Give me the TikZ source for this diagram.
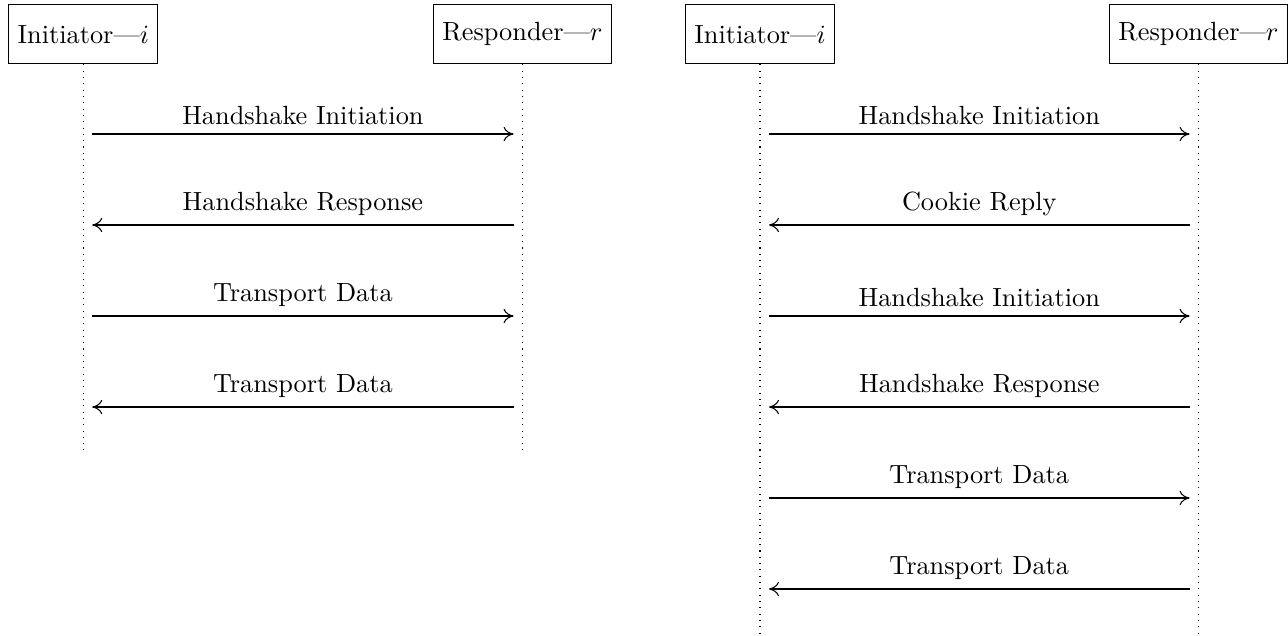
\documentclass[tikz,border=0pt]{standalone}
\usetikzlibrary{arrows.meta}
\begin{document}
\begin{tikzpicture}[x=0.3802pt,y=-0.3802pt,
  actor/.style={draw, minimum height=22.5pt, inner sep=3.33pt},
  life/.style={dotted},
  msg/.style={-{To[length=3.8pt,width=5.4pt]}, shorten >=3.4pt, shorten <=3.4pt},
  lbl/.style={above}]
\useasboundingbox (0,0) rectangle (1288,635);
% left diagram
\node[actor] (i1) at (83.3,34.3) {Initiator---$i$};
\node[actor] (r1) at (522.5,34.3) {Responder---$r$};
\coordinate (i1end) at (83.3,450);
\coordinate (r1end) at (522.5,450);
\draw[life] (i1.south) -- (i1end);
\draw[life] (r1.south) -- (r1end);
\coordinate (i1a) at (83.3,134);  \coordinate (r1a) at (522.5,134);
\coordinate (i1b) at (83.3,225);  \coordinate (r1b) at (522.5,225);
\coordinate (i1c) at (83.3,316);  \coordinate (r1c) at (522.5,316);
\coordinate (i1d) at (83.3,407);  \coordinate (r1d) at (522.5,407);
\draw[msg] (i1a) -- node[lbl] {Handshake Initiation} (r1a);
\draw[msg] (r1b) -- node[lbl] {Handshake Response} (i1b);
\draw[msg] (i1c) -- node[lbl] {Transport Data} (r1c);
\draw[msg] (r1d) -- node[lbl] {Transport Data} (i1d);
% right diagram
\node[actor] (i2) at (760,34.3) {Initiator---$i$};
\node[actor] (r2) at (1198.5,34.3) {Responder---$r$};
\coordinate (i2end) at (760,635);
\coordinate (r2end) at (1198.5,635);
\draw[life] (i2.south) -- (i2end);
\draw[life] (r2.south) -- (r2end);
\coordinate (i2a) at (760,134);  \coordinate (r2a) at (1198.5,134);
\coordinate (i2b) at (760,225);  \coordinate (r2b) at (1198.5,225);
\coordinate (i2c) at (760,316);  \coordinate (r2c) at (1198.5,316);
\coordinate (i2d) at (760,407);  \coordinate (r2d) at (1198.5,407);
\coordinate (i2e) at (760,498);  \coordinate (r2e) at (1198.5,498);
\coordinate (i2f) at (760,589);  \coordinate (r2f) at (1198.5,589);
\draw[msg] (i2a) -- node[lbl] {Handshake Initiation} (r2a);
\draw[msg] (r2b) -- node[lbl] {Cookie Reply} (i2b);
\draw[msg] (i2c) -- node[lbl] {Handshake Initiation} (r2c);
\draw[msg] (r2d) -- node[lbl] {Handshake Response} (i2d);
\draw[msg] (i2e) -- node[lbl] {Transport Data} (r2e);
\draw[msg] (r2f) -- node[lbl] {Transport Data} (i2f);
\end{tikzpicture}
\end{document}
